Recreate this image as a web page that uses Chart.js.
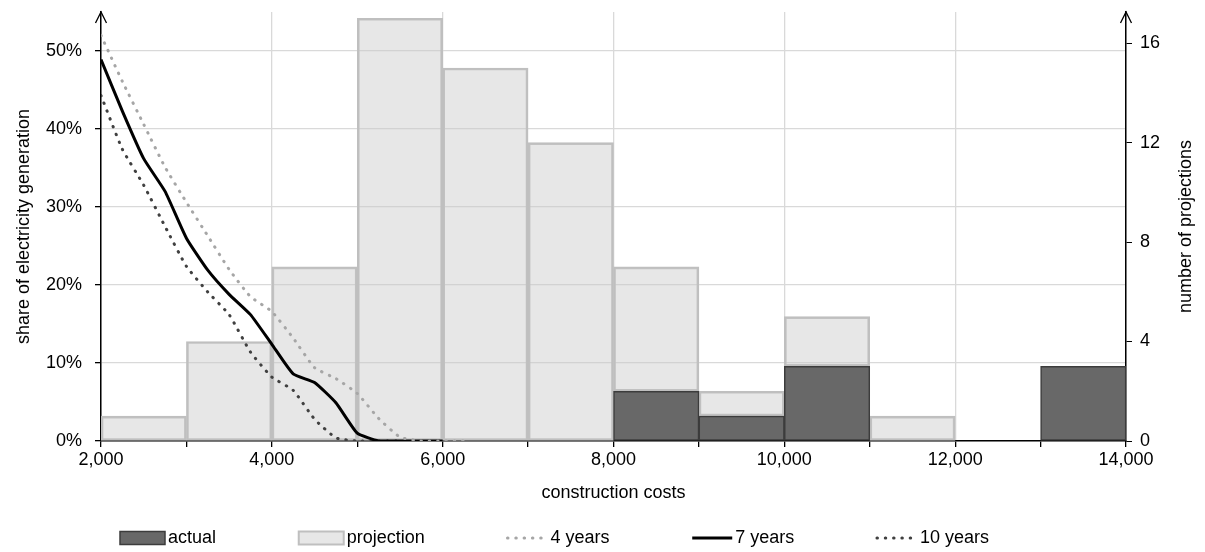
<!DOCTYPE html>
<html>
<head>
<meta charset="utf-8">
<script src="https://cdn.jsdelivr.net/npm/chart.js@4.4.0/dist/chart.umd.min.js"></script>
<style>
  html, body { margin: 0; padding: 0; background: #fff; }
  canvas { display: block; }
</style>
</head>
<body>
<canvas id="costChart" width="1205" height="552"></canvas>
<script>
// histogram bins (1000 wide, given by their centre)
const binCenters = [2500, 3500, 4500, 5500, 6500, 7500, 8500, 9500, 10500, 11500, 12500, 13500];
const actualCount = [0, 0, 0, 0, 0, 0, 2, 1, 3, 0, 0, 3];
const projectionCount = [1, 4, 7, 17, 15, 12, 5, 1, 2, 1, 0, 0];

// share of electricity generation (%) by construction cost
const costSteps = [2000, 2250, 2500, 2750, 3000, 3250, 3500, 3750, 4000, 4250, 4500, 4750, 5000, 5250, 5500, 5750, 6000, 6250];
const share4Years = [52.0, 46.1, 40.6, 35.1, 30.6, 26.3, 22.0, 18.5, 16.6, 13.2, 9.4, 8.0, 6.1, 2.9, 0.5, 0, 0, 0];
const share7Years = [48.9, 42.3, 36.2, 32.0, 26.0, 21.9, 18.8, 16.2, 12.4, 8.6, 7.5, 4.9, 1.0, 0, 0, 0, 0];
const share10Years = [44.3, 37.4, 32.8, 27.5, 22.4, 19.1, 16.2, 11.4, 8.2, 6.5, 2.8, 0.4, 0, 0, 0];

const FONT = '"Liberation Sans", Arial, sans-serif';
Chart.defaults.font.family = FONT;
Chart.defaults.font.size = 18;
Chart.defaults.color = '#000';

function toPoints(xs, ys) {
  return ys.map((y, i) => ({ x: xs[i], y: y }));
}

// arrow heads on the value axes, right axis title (reads upward) and legend row
const extras = {
  id: 'extras',
  afterDraw(chart) {
    const ctx = chart.ctx;
    const area = chart.chartArea;
    ctx.save();
    ctx.strokeStyle = '#000';
    ctx.lineWidth = 1.3;
    [area.left, area.right].forEach(x => {
      ctx.beginPath();
      ctx.moveTo(x - 5.5, area.top + 11);
      ctx.lineTo(x, area.top);
      ctx.lineTo(x + 5.5, area.top + 11);
      ctx.stroke();
    });

    ctx.font = '18px ' + FONT;
    ctx.fillStyle = '#000';
    ctx.textAlign = 'center';
    ctx.textBaseline = 'middle';
    ctx.save();
    ctx.translate(1186, (area.top + area.bottom) / 2);
    ctx.rotate(-Math.PI / 2);
    ctx.fillText('number of projections', 0, 0);
    ctx.restore();

    ctx.textAlign = 'left';
    const y = 538;
    const items = chart.data.datasets.map(ds => {
      const mark = ds.type === 'line' ? 40 : 45;
      return { ds, mark, w: mark + 4 + ctx.measureText(ds.label).width };
    });
    const total = items.reduce((s, it) => s + it.w, 0);
    const start = 120, end = 990;
    const gap = (end - start - total) / (items.length - 1);
    let x = start;
    items.forEach(({ ds, mark, w }) => {
      if (ds.type === 'line') {
        ctx.setLineDash(ds.borderDash || []);
        ctx.lineCap = ds.borderCapStyle || 'butt';
        ctx.strokeStyle = ds.borderColor;
        ctx.lineWidth = ds.borderWidth;
        ctx.beginPath();
        ctx.moveTo(x, y);
        ctx.lineTo(x + mark, y);
        ctx.stroke();
        ctx.setLineDash([]);
        ctx.lineCap = 'butt';
      } else {
        ctx.fillStyle = ds.backgroundColor;
        ctx.fillRect(x, y - 6.5, mark, 13);
        ctx.strokeStyle = ds.borderColor;
        ctx.lineWidth = ds.borderWidth;
        ctx.strokeRect(x, y - 6.5, mark, 13);
      }
      ctx.fillStyle = '#000';
      ctx.fillText(ds.label, x + mark + 3, y);
      x += w + gap;
    });
    ctx.restore();
  }
};

new Chart(document.getElementById('costChart'), {
  type: 'bar',
  data: {
    datasets: [
      {
        label: 'actual',
        data: toPoints(binCenters, actualCount),
        yAxisID: 'y1',
        stack: 'bins',
        order: 1,
        backgroundColor: '#686868',
        borderColor: '#3c3c3c',
        borderWidth: 1.5,
        borderSkipped: false,
        barPercentage: 1,
        categoryPercentage: 1
      },
      {
        label: 'projection',
        data: toPoints(binCenters, projectionCount),
        yAxisID: 'y1',
        stack: 'bins',
        order: 1,
        backgroundColor: 'rgba(200, 200, 200, 0.44)',
        borderColor: '#bfbfbf',
        borderWidth: 2,
        borderSkipped: false,
        barPercentage: 1,
        categoryPercentage: 1
      },
      {
        type: 'line',
        label: '4 years',
        data: toPoints(costSteps, share4Years),
        yAxisID: 'y',
        order: 0,
        borderColor: '#a6a6a6',
        borderWidth: 3,
        borderDash: [0.5, 7.8],
        borderCapStyle: 'round',
        pointRadius: 0,
        tension: 0.15
      },
      {
        type: 'line',
        label: '7 years',
        data: toPoints(costSteps, share7Years),
        yAxisID: 'y',
        order: 0,
        borderColor: '#000',
        borderWidth: 3,
        pointRadius: 0,
        tension: 0.15
      },
      {
        type: 'line',
        label: '10 years',
        data: toPoints(costSteps, share10Years),
        yAxisID: 'y',
        order: 0,
        borderColor: '#404040',
        borderWidth: 3,
        borderDash: [0.5, 7.8],
        borderCapStyle: 'round',
        pointRadius: 0,
        tension: 0.15
      }
    ]
  },
  options: {
    responsive: false,
    animation: false,
    devicePixelRatio: 1,
    layout: { padding: { top: 12, left: 0, right: 0, bottom: 47 } },
    plugins: {
      legend: { display: false },
      tooltip: { enabled: false }
    },
    scales: {
      x: {
        type: 'linear',
        min: 2000,
        max: 14000,
        offset: false,
        grid: {
          offset: false,
          color: c => (c.tick && c.tick.value % 2000 === 0) ? '#d9d9d9' : 'rgba(0,0,0,0)',
          lineWidth: 1.3,
          tickColor: '#000',
          tickLength: 6
        },
        border: { color: '#000', width: 1.5 },
        ticks: {
          stepSize: 1000,
          autoSkip: false,
          maxRotation: 0,
          padding: 2,
          callback: v => v % 2000 === 0 ? v.toLocaleString('en-US') : ''
        },
        title: { display: true, text: 'construction costs', padding: { top: 0, bottom: 1 } },
        afterFit: s => { s.height = 64; s.paddingLeft = 0; s.paddingRight = 0; }
      },
      y: {
        position: 'left',
        min: 0,
        max: 55,
        grid: { color: '#d9d9d9', lineWidth: 1.3, tickColor: '#000', tickLength: 6 },
        border: { color: '#000', width: 1.5 },
        ticks: {
          stepSize: 10,
          includeBounds: false,
          padding: 13,
          callback: v => v + '%'
        },
        title: { display: true, text: 'share of electricity generation', padding: { top: 13, bottom: 0 } },
        afterFit: s => { s.width = 101; s.paddingTop = 0; s.paddingBottom = 0; }
      },
      y1: {
        position: 'right',
        min: 0,
        max: 17.25,
        grid: { drawOnChartArea: false, tickColor: '#000', tickLength: 6 },
        border: { color: '#000', width: 1.5 },
        ticks: {
          stepSize: 4,
          includeBounds: false,
          padding: 8
        },
        afterFit: s => { s.width = 79; s.paddingTop = 0; s.paddingBottom = 0; }
      }
    }
  },
  plugins: [extras]
});
</script>
</body>
</html>
